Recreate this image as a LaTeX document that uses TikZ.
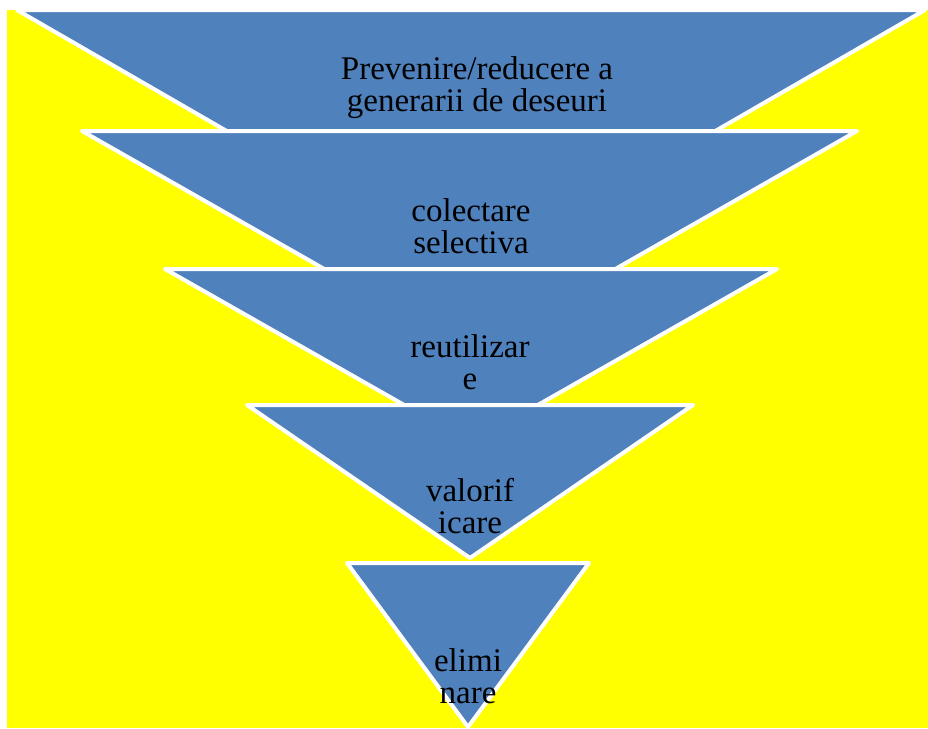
\documentclass[tikz,border=0pt]{standalone}
\usepackage{fontspec}
\setmainfont{Liberation Serif}
\definecolor{tblue}{HTML}{4F81BD}
\definecolor{bgyellow}{HTML}{FFFF00}
\begin{document}
\begin{tikzpicture}[x=1pt,y=-1pt,
  tri/.style={fill=tblue,draw=white,line width=4pt,line join=round},
  lbl/.style={align=center,font=\fontsize{33}{32}\selectfont,text=black,inner sep=0pt}]
\useasboundingbox (0,0) rectangle (928,728);
\fill[white] (0,0) rectangle (928,728);
\fill[bgyellow] (7,10) rectangle (928,728);
\draw[tri] (17,10) -- (925,10) -- (471,272) -- cycle;
\draw[tri] (82,131) -- (857,131) -- (470,352) -- cycle;
\draw[tri] (165,269) -- (777,269) -- (471,443) -- cycle;
\draw[tri] (247,405) -- (693,405) -- (470,558) -- cycle;
\draw[tri] (347,563) -- (589,563) -- (468,727) -- cycle;
\node[lbl] (t1) at (477,88) {Prevenire/reducere a\\generarii de deseuri};
\node[lbl] (t2) at (471,226) {colectare\\selectiva};
\node[lbl] (t3) at (470,362) {reutilizar\\e};
\node[lbl] (t4) at (470,506) {valorif\\icare};
\node[lbl] (t5) at (468,676) {elimi\\nare};
\end{tikzpicture}
\end{document}
